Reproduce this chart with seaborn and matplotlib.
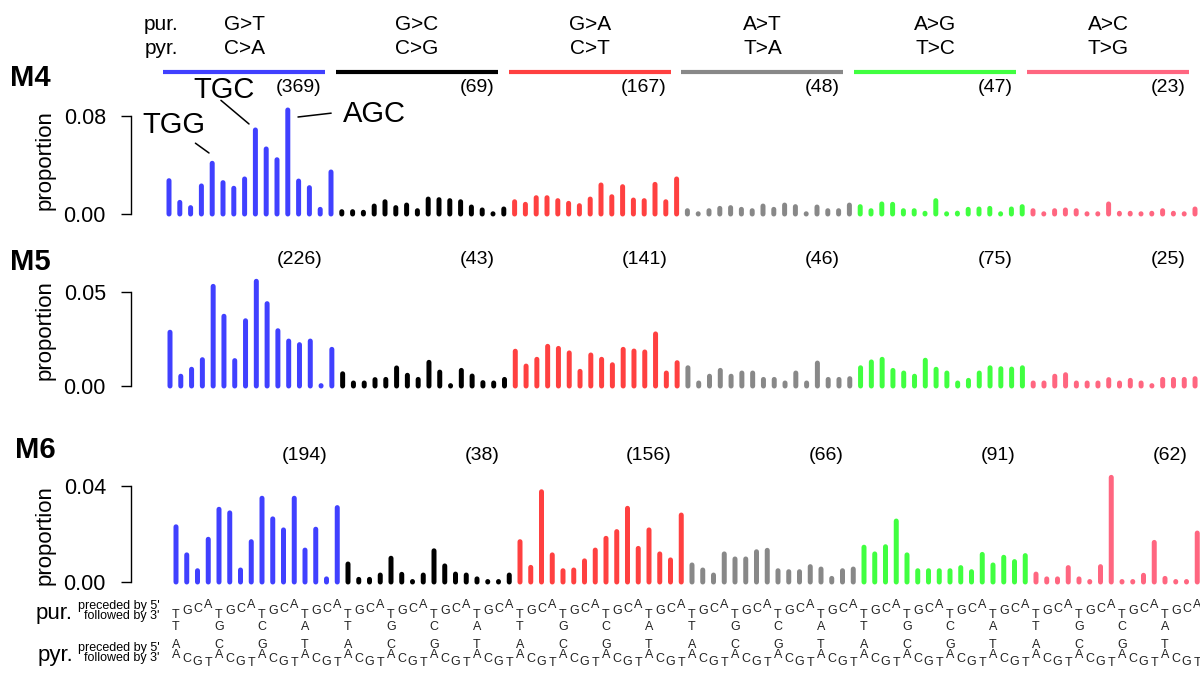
import pandas as pd
import matplotlib
matplotlib.use('Agg')
import matplotlib.pyplot as plt
import matplotlib.transforms as mtransforms
import seaborn as sns

# --- DATA ---
pyr_types = ['C>A', 'C>G', 'C>T', 'T>A', 'T>C', 'T>G']
pur_types = ['G>T', 'G>C', 'G>A', 'A>T', 'A>G', 'A>C']
type_colors = ['#4040ff', '#000000', '#ff4040', '#888888', '#40ff40', '#ff6680']

five_prime = ['T', 'G', 'C', 'A']   # purine strand, preceded by 5'
three_prime = ['T', 'G', 'C', 'A']  # purine strand, followed by 3'
complement = {'A': 'T', 'C': 'G', 'G': 'C', 'T': 'A'}

m4_counts = [369, 69, 167, 48, 47, 23]
m5_counts = [226, 43, 141, 46, 75, 25]
m6_counts = [194, 38, 156, 66, 91, 62]

# proportions (0.0002 = bar drawn as a bare dot)
m4_values = [
    0.0272, 0.0095, 0.0052, 0.0229, 0.0414, 0.0256, 0.0210, 0.0286, 0.0686, 0.0531, 0.0443, 0.0849, 0.0269, 0.0215, 0.0038, 0.0343,
    0.0019, 0.0019, 0.0014, 0.0065, 0.0100, 0.0052, 0.0073, 0.0027, 0.0122, 0.0117, 0.0109, 0.0100, 0.0057, 0.0033, 0.0002, 0.0041,
    0.0100, 0.0079, 0.0133, 0.0133, 0.0109, 0.0087, 0.0068, 0.0122, 0.0237, 0.0141, 0.0223, 0.0114, 0.0109, 0.0242, 0.0100, 0.0286,
    0.0027, 0.0002, 0.0027, 0.0046, 0.0052, 0.0038, 0.0027, 0.0065, 0.0038, 0.0073, 0.0060, 0.0002, 0.0057, 0.0027, 0.0027, 0.0073,
    0.0060, 0.0027, 0.0082, 0.0079, 0.0027, 0.0027, 0.0006, 0.0109, 0.0002, 0.0007, 0.0038, 0.0041, 0.0046, 0.0002, 0.0041, 0.0060,
    0.0027, 0.0002, 0.0027, 0.0033, 0.0027, 0.0002, 0.0002, 0.0082, 0.0006, 0.0006, 0.0002, 0.0006, 0.0027, 0.0006, 0.0002, 0.0041,
]
m5_values = [
    0.0286, 0.0052, 0.0089, 0.0140, 0.0530, 0.0371, 0.0135, 0.0347, 0.0557, 0.0438, 0.0294, 0.0239, 0.0220, 0.0239, 0.0002, 0.0195,
    0.0065, 0.0016, 0.0016, 0.0034, 0.0035, 0.0096, 0.0057, 0.0035, 0.0126, 0.0074, 0.0002, 0.0083, 0.0053, 0.0018, 0.0016, 0.0035,
    0.0185, 0.0106, 0.0142, 0.0211, 0.0200, 0.0176, 0.0078, 0.0165, 0.0142, 0.0113, 0.0195, 0.0186, 0.0181, 0.0277, 0.0069, 0.0124,
    0.0097, 0.0016, 0.0052, 0.0083, 0.0052, 0.0069, 0.0069, 0.0035, 0.0035, 0.0016, 0.0069, 0.0016, 0.0122, 0.0035, 0.0035, 0.0039,
    0.0097, 0.0128, 0.0142, 0.0083, 0.0069, 0.0052, 0.0137, 0.0089, 0.0069, 0.0016, 0.0030, 0.0069, 0.0097, 0.0092, 0.0090, 0.0097,
    0.0016, 0.0016, 0.0052, 0.0060, 0.0016, 0.0016, 0.0016, 0.0034, 0.0016, 0.0030, 0.0016, 0.0002, 0.0035, 0.0035, 0.0035, 0.0039,
]
m6_values = [
    0.0230, 0.0113, 0.0047, 0.0178, 0.0303, 0.0288, 0.0050, 0.0168, 0.0349, 0.0263, 0.0217, 0.0349, 0.0133, 0.0220, 0.0013, 0.0310,
    0.0075, 0.0011, 0.0011, 0.0029, 0.0099, 0.0032, 0.0002, 0.0029, 0.0130, 0.0067, 0.0033, 0.0029, 0.0013, 0.0002, 0.0002, 0.0029,
    0.0168, 0.0061, 0.0376, 0.0113, 0.0047, 0.0050, 0.0088, 0.0133, 0.0182, 0.0210, 0.0307, 0.0140, 0.0217, 0.0117, 0.0092, 0.0279,
    0.0071, 0.0050, 0.0029, 0.0117, 0.0096, 0.0096, 0.0126, 0.0132, 0.0047, 0.0043, 0.0043, 0.0064, 0.0054, 0.0015, 0.0047, 0.0054,
    0.0145, 0.0117, 0.0147, 0.0254, 0.0113, 0.0047, 0.0047, 0.0047, 0.0047, 0.0060, 0.0043, 0.0115, 0.0071, 0.0103, 0.0085, 0.0110,
    0.0033, 0.0013, 0.0013, 0.0060, 0.0013, 0.0002, 0.0064, 0.0436, 0.0002, 0.0002, 0.0028, 0.0165, 0.0015, 0.0002, 0.0002, 0.0204,
]

# highlighted contexts in M4: (label, bar index)
m4_highlights = [('TGG', 4), ('TGC', 8), ('AGC', 11)]

# --- PLOTTING ---
sns.set_theme(style='white')
plt.rcParams['font.family'] = ['Liberation Sans', 'DejaVu Sans']
plt.rcParams['path.simplify'] = False

W, H = 1200, 675
fig = plt.figure(figsize=(12, 6.75), dpi=100)


def fx(px):
    return px / W


def fy(py):
    return 1 - py / H


palette = dict(zip(pyr_types, type_colors))
n_bars = len(m4_values)

# name, values, counts, top tick, baseline px, px per unit, first bar px, bar step px, label px pos, ylabel pos
panels = [
    ('M4', m4_values, m4_counts, 0.08, 214, 1225, 169, 10.80, (10, 78), 0.474),
    ('M5', m5_values, m5_counts, 0.05, 386, 1880, 170, 10.79, (10, 262), 0.49),
    ('M6', m6_values, m6_counts, 0.04, 582, 2400, 176, 10.75, (15, 450), 0.41),
]

spine_x = 131
ax_h = 114
axes = []
for name, vals, counts, ytick, base, ppu, first, step, lab_pos, ylab_y in panels:
    ax = fig.add_axes([fx(spine_x), fy(base), fx(W - spine_x), ax_h / H])
    # each bar is a vertical stick from 0 to its value (one line unit per bar)
    rows = []
    for i, v in enumerate(vals):
        mut = pyr_types[i // 16]
        rows.append({'pos': i, 'val': 0.0, 'bar': i, 'mut': mut})
        rows.append({'pos': i, 'val': v, 'bar': i, 'mut': mut})
    df = pd.DataFrame(rows)
    sns.lineplot(data=df, x='pos', y='val', hue='mut', units='bar', estimator=None,
                 palette=palette, linewidth=3.6, legend=False, ax=ax)
    for ln in ax.lines:
        ln.set_solid_capstyle('round')
        ln.set_snap(False)
        ln.set_clip_on(False)

    ax.set_xlim(-(first - spine_x) / step, (W - first) / step)
    ax.set_ylim(0, ax_h / ppu)
    ax.set_facecolor('none')
    ax.set_xticks([])
    ax.set_xlabel('')
    ax.set_yticks([0, ytick])
    ax.set_yticklabels(['0.00', f'{ytick:.2f}'])
    for s in ['top', 'right', 'bottom']:
        ax.spines[s].set_visible(False)
    ax.spines['left'].set_bounds(0, ytick)
    ax.spines['left'].set_color('black')
    ax.spines['left'].set_linewidth(1)
    ax.tick_params(axis='y', left=True, length=7, width=1, pad=11, labelsize=15.5,
                   color='black', labelcolor='black')
    ax.set_ylabel('proportion', fontsize=16, color='black')
    ax.yaxis.label.set_va('center')
    ax.yaxis.set_label_coords((45 - spine_x) / (W - spine_x), ylab_y)

    count_tr = mtransforms.blended_transform_factory(ax.transData, ax.transAxes)
    for g, c in enumerate(counts):
        ax.text(16 * g + 14.1, 126 / ax_h, f'({c})', transform=count_tr,
                ha='right', va='center', fontsize=14, color='black')

    fig.text(fx(lab_pos[0]), fy(lab_pos[1]), name, fontsize=21, fontweight='bold',
             ha='left', va='center', color='black')
    axes.append(ax)

ax4, ax5, ax6 = axes

# header: coloured segments and mutation types over M4
head_tr = mtransforms.blended_transform_factory(ax4.transData, fig.transFigure)
for g in range(6):
    ax4.plot([16 * g - 0.55, 16 * g + 14.45], [fy(72), fy(72)], transform=head_tr,
             color=type_colors[g], lw=3, solid_capstyle='butt', clip_on=False)
    ax4.text(16 * g + 6.95, fy(24), pur_types[g], transform=head_tr, ha='center',
             va='center', fontsize=15, color='black')
    ax4.text(16 * g + 6.95, fy(48), pyr_types[g], transform=head_tr, ha='center',
             va='center', fontsize=15, color='black')
fig.text(fx(178), fy(24), 'pur.', ha='right', va='center', fontsize=15, color='black')
fig.text(fx(178), fy(48), 'pyr.', ha='right', va='center', fontsize=15, color='black')

# highlighted trinucleotides in M4
# (line end offset from bar top px, text offset from line end px, relpos of line start)
hl_style = {
    'TGG': ((-3.2, 10.3), (-35, 28), (0.84, -0.15)),
    'TGC': ((-6.4, 6.0), (-25, 34), (0.45, 0.13)),
    'AGC': ((10.2, -7.0), (76, 3), (-0.18, 0.53)),
}
to_pt = 72 / 100
for label, idx in m4_highlights:
    (dx, dy), (tx, ty), rel = hl_style[label]
    end_tr = mtransforms.offset_copy(ax4.transData, fig=fig, x=dx * to_pt, y=dy * to_pt,
                                     units='points')
    ax4.annotate(label, xy=(idx, m4_values[idx]), xycoords=end_tr,
                 xytext=(tx * to_pt, ty * to_pt), textcoords='offset points',
                 ha='center', va='center', fontsize=21, color='black',
                 arrowprops=dict(arrowstyle='-', lw=1.1, color='black', relpos=rel,
                                 patchA=None, shrinkA=0, shrinkB=0),
                 annotation_clip=False)

# trinucleotide context rows under M6
ctx_tr = mtransforms.blended_transform_factory(ax6.transData, fig.transFigure)
pur_stair = {'T': 615, 'G': 611, 'C': 609, 'A': 605}
pyr_stair = {'A': 655, 'C': 659, 'G': 662, 'T': 663}
letter_kw = dict(transform=ctx_tr, ha='center', va='center', fontsize=9, color='#222222')
for i in range(n_bars):
    b5 = five_prime[i % 4]
    ax6.text(i, fy(pur_stair[b5]), b5, **letter_kw)
    ax6.text(i, fy(pyr_stair[complement[b5]]), complement[b5], **letter_kw)
    if i % 4 == 0:
        b3 = three_prime[(i // 4) % 4]
        ax6.text(i, fy(627), b3, **letter_kw)
        ax6.text(i, fy(645), complement[b3], **letter_kw)

for row, yb in [('pur.', 613), ('pyr.', 655)]:
    fig.text(fx(73), fy(yb), row, ha='right', va='center', fontsize=16, color='black')
    fig.text(fx(160), fy(yb - 7), "preceded by 5'", ha='right', va='center', fontsize=9,
             color='black')
    fig.text(fx(160), fy(yb + 3), "followed by 3'", ha='right', va='center', fontsize=9,
             color='black')

fig.savefig('out.png', dpi=100)
plt.close(fig)
